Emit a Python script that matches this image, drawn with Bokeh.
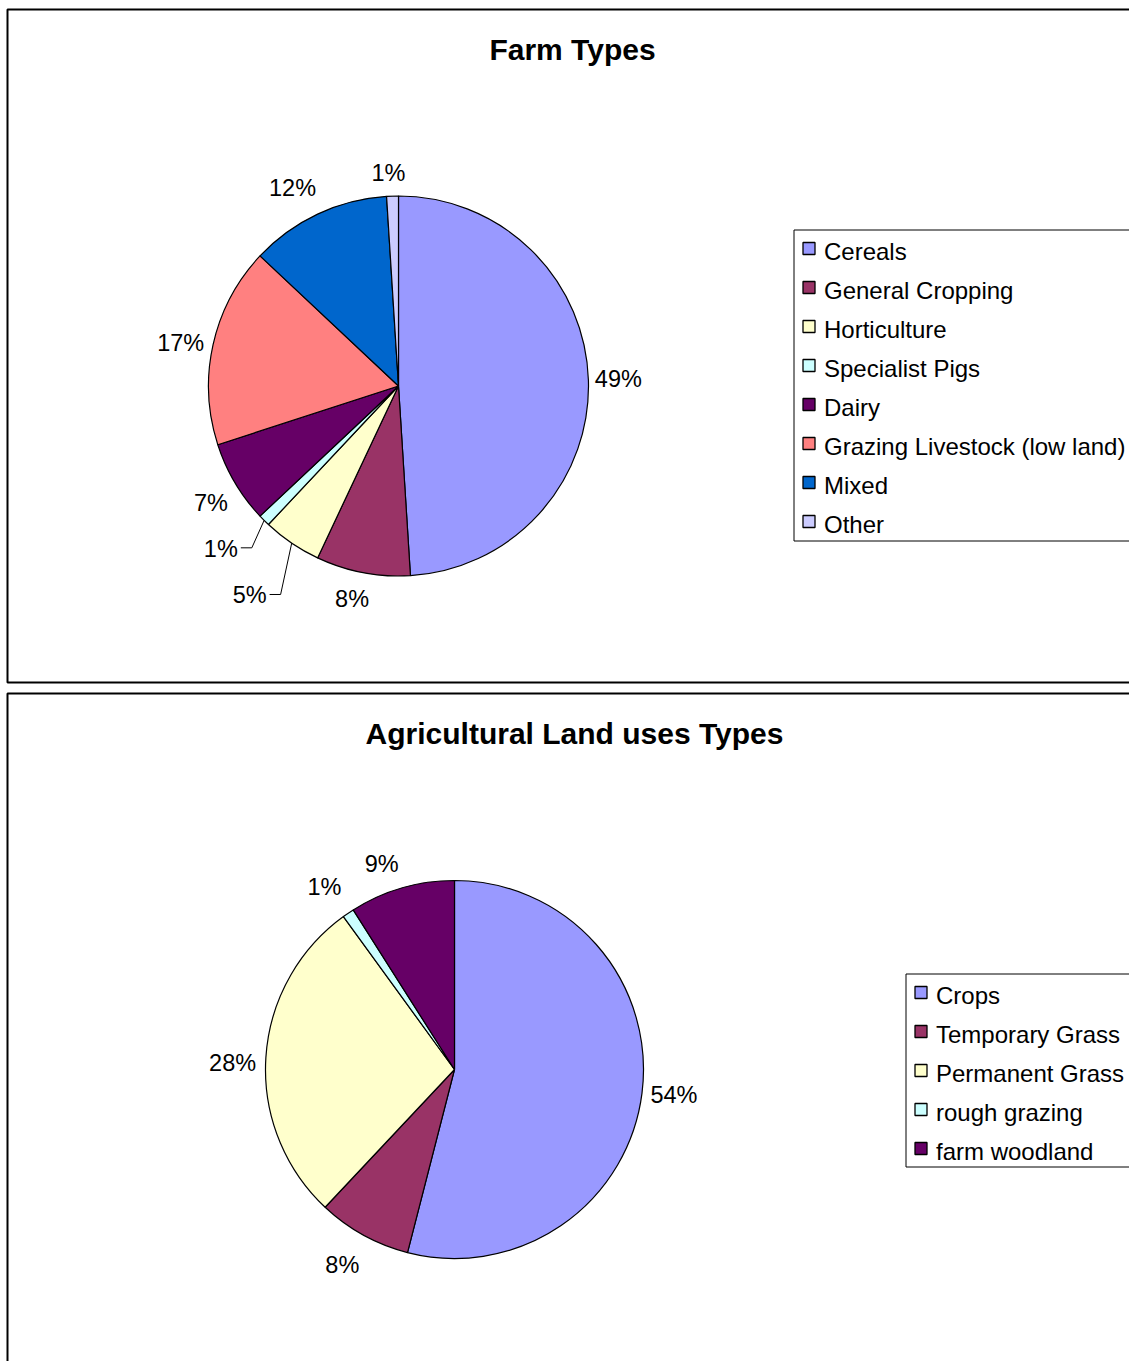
import numpy as np
from bokeh.plotting import figure
from bokeh.models import Range1d, ColumnDataSource
from bokeh.core.properties import value
from bokeh.embed import file_html
from bokeh.resources import INLINE

# ---------------- data ----------------
farm_title = "Farm Types"
farm_types = ["Cereals", "General Cropping", "Horticulture", "Specialist Pigs",
              "Dairy", "Grazing Livestock (low land)", "Mixed", "Other"]
farm_pct = [49, 8, 5, 1, 7, 17, 12, 1]
farm_colors = ["#9999FF", "#993366", "#FFFFCC", "#CCFFFF",
               "#660066", "#FF8080", "#0066CC", "#CCCCFF"]

land_title = "Agricultural Land uses Types"
land_types = ["Crops", "Temporary Grass", "Permanent Grass", "rough grazing", "farm woodland"]
land_pct = [54, 8, 28, 1, 9]
land_colors = ["#9999FF", "#993366", "#FFFFCC", "#CCFFFF", "#660066"]

# ---------------- layout ----------------
W, H = 1129, 1361
FONT = value("Liberation Sans")

p = figure(width=W, height=H, x_range=Range1d(0, W), y_range=Range1d(-H, 0),
           output_backend="svg", toolbar_location=None, min_border=0,
           x_axis_location=None, y_axis_location=None)
p.grid.visible = False
p.outline_line_color = None
p.background_fill_color = "white"
p.border_fill_color = "white"

# chart frames (pixel coordinates, y pointing down -> negated)
p.quad(left=[7, 7], right=[1200, 1200], top=[-9, -693], bottom=[-682, -1500],
       fill_color=None, line_color="black", line_width=2)


def pie(cx, cy, r, vals, colors, label_dist, angle_shift, leaders):
    vals = np.asarray(vals, dtype=float)
    frac = vals / vals.sum()
    c1 = np.cumsum(frac)
    c0 = c1 - frac
    src = ColumnDataSource(dict(
        start=np.pi / 2 - 2 * np.pi * c1,
        end=np.pi / 2 - 2 * np.pi * c0,
        color=colors))
    p.wedge(x=cx, y=-cy, radius=r, start_angle="start", end_angle="end",
            fill_color="color", line_color="black", line_width=1.2, source=src)
    mid = (c0 + c1) / 2 * 2 * np.pi          # clockwise from 12 o'clock
    lab_ang = mid + np.radians(angle_shift)
    lx = cx + np.asarray(label_dist) * np.sin(lab_ang)
    ly = cy - np.asarray(label_dist) * np.cos(lab_ang)
    texts = [f"{int(round(v))}%" for v in vals]
    p.text(x=lx, y=-ly, text=texts, text_font=FONT, text_font_size="23.5px",
           text_align="center", text_baseline="middle", text_color="black")
    xs, ys = [], []
    for i in leaders:
        ex = cx + r * np.sin(mid[i])
        ey = cy - r * np.cos(mid[i])
        xs.append([ex, lx[i] + 31, lx[i] + 20])
        ys.append([-ey, -(ly[i] - 1), -(ly[i] - 1)])
    if xs:
        p.multi_line(xs=xs, ys=ys, line_color="black", line_width=1)


def legend(x0, y0, y1, names, colors, row0, step=39):
    p.quad(left=[x0], right=[1200], top=[-y0], bottom=[-y1],
           fill_color=None, line_color="black", line_width=1)
    ys = row0 + step * np.arange(len(names))
    p.scatter(x=x0 + 15, y=-(ys - 3), marker="square", size=12,
              fill_color=colors, line_color="black", line_width=1.3)
    p.text(x=x0 + 30, y=-ys, text=names, text_font=FONT, text_font_size="24px",
           text_align="left", text_baseline="middle", text_color="black")


# titles
p.text(x=[572, 574], y=[-49, -733], text=[farm_title, land_title], text_font=FONT,
       text_font_size="30px", text_font_style="bold", text_align="center",
       text_baseline="middle", text_color="black")

pie(398, 385.5, 190, farm_pct, farm_colors,
    label_dist=[220, 218, 257, 241, 221, 222, 225, 213],
    angle_shift=[0, 1.5, 1.2, 2.5, -1.3, -1.4, -2.9, -0.9],
    leaders=[2, 3])
legend(793.5, 229.5, 540.5, farm_types, farm_colors, row0=251)

pie(454, 1069, 189, land_pct, land_colors,
    label_dist=[221, 225, 222, 224, 218],
    angle_shift=[-0.5, 1.1, -1.8, -1.3, -3.3],
    leaders=[])
legend(905.5, 973.5, 1166.5, land_types, land_colors, row0=995)

open("out.html", "w").write(file_html(p, INLINE))
